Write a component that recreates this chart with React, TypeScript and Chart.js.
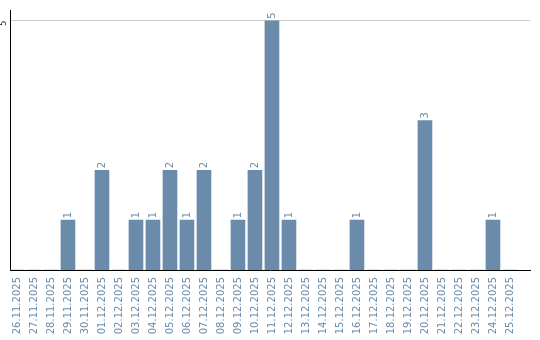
import React, { useEffect, useRef } from 'react';
import { Chart, registerables } from 'chart.js';

Chart.register(...registerables);

const dates = [
  '26.11.2025', '27.11.2025', '28.11.2025', '29.11.2025', '30.11.2025',
  '01.12.2025', '02.12.2025', '03.12.2025', '04.12.2025', '05.12.2025',
  '06.12.2025', '07.12.2025', '08.12.2025', '09.12.2025', '10.12.2025',
  '11.12.2025', '12.12.2025', '13.12.2025', '14.12.2025', '15.12.2025',
  '16.12.2025', '17.12.2025', '18.12.2025', '19.12.2025', '20.12.2025',
  '21.12.2025', '22.12.2025', '23.12.2025', '24.12.2025', '25.12.2025',
];
const counts = [0, 0, 0, 1, 0, 2, 0, 1, 1, 2, 1, 2, 0, 1, 2, 5, 1, 0, 0, 0, 1, 0, 0, 0, 3, 0, 0, 0, 1, 0];
const yTicks = [5];

const BAR_COLOR = 'rgb(106,139,170)';
const FONT = 'DejaVu Sans';

const barLabels = {
  id: 'barLabels',
  afterDatasetsDraw(chart: any) {
    const ctx = chart.ctx;
    const meta = chart.getDatasetMeta(0);
    ctx.save();
    ctx.font = `10px "${FONT}"`;
    ctx.fillStyle = BAR_COLOR;
    ctx.textAlign = 'left';
    ctx.textBaseline = 'middle';
    meta.data.forEach((el: any, i: number) => {
      const v = counts[i];
      if (!v) return;
      ctx.save();
      ctx.translate(el.x, el.y - 2);
      ctx.rotate(-Math.PI / 2);
      ctx.fillText(String(v), 0, 0);
      ctx.restore();
    });
    ctx.restore();
  },
};

export default function App() {
  const ref = useRef<HTMLCanvasElement | null>(null);
  useEffect(() => {
    if (!ref.current) return;
    const chart = new Chart(ref.current, {
      type: 'bar',
      data: {
        datasets: [
          {
            data: counts.map((v, i) => ({ x: i, y: v })),
            backgroundColor: BAR_COLOR,
            borderWidth: 0,
            barThickness: 14,
          },
        ],
      },
      options: {
        animation: false,
        responsive: false,
        layout: { padding: { top: 10, right: 10, left: 0, bottom: 0 } },
        plugins: { legend: { display: false }, tooltip: { enabled: false } },
        scales: {
          x: {
            type: 'linear',
            min: -0.41,
            max: 30.18,
            offset: false,
            afterBuildTicks: (s: any) => {
              s.ticks = dates.map((_, i) => ({ value: i }));
            },
            afterFit: (s: any) => {
              s.height = 70;
            },
            grid: { display: false, drawTicks: false, offset: false },
            border: { display: true, color: '#000', width: 1 },
            ticks: {
              autoSkip: false,
              minRotation: 90,
              maxRotation: 90,
              padding: 7,
              color: BAR_COLOR,
              font: { size: 10, family: FONT },
              callback: (v: any) => dates[v] ?? '',
            },
          },
          y: {
            min: 0,
            max: 5.2,
            afterBuildTicks: (s: any) => {
              s.ticks = yTicks.map((v) => ({ value: v }));
            },
            afterFit: (s: any) => {
              s.width = 10;
            },
            grid: { color: '#cccccc', drawTicks: false },
            border: { display: true, color: '#000', width: 1 },
            ticks: {
              minRotation: 90,
              maxRotation: 90,
              padding: 6,
              color: '#222',
              font: { size: 8, family: FONT },
            },
          },
        },
      },
      plugins: [barLabels],
    } as any);
    return () => chart.destroy();
  }, []);
  return (
    <canvas
      ref={ref}
      width={540}
      height={340}
      style={{ position: 'absolute', left: 0, top: 0, display: 'block' }}
    />
  );
}
